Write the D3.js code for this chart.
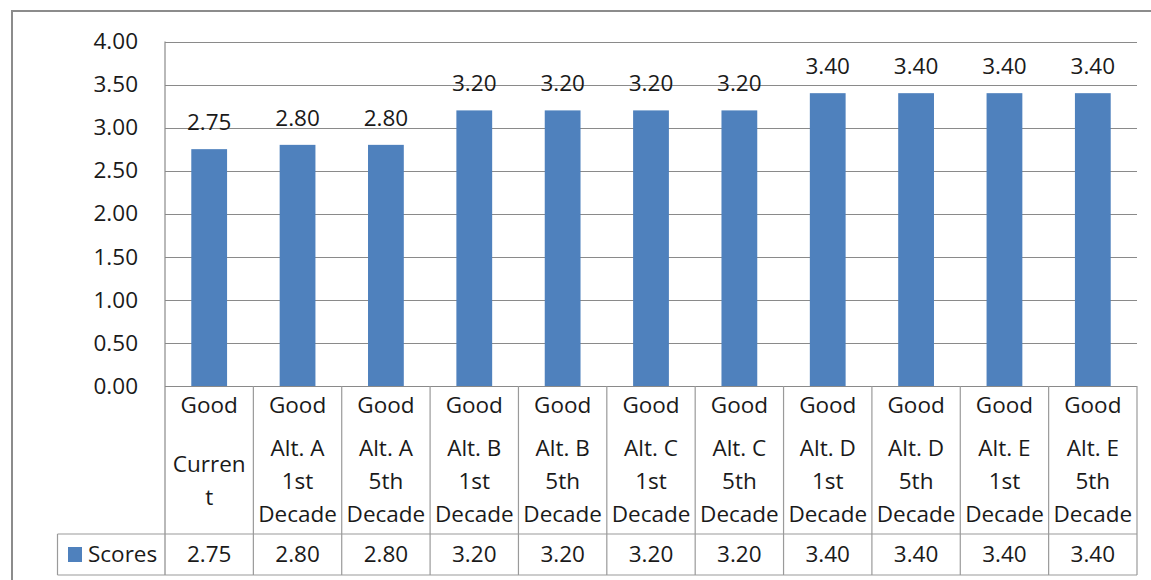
<!DOCTYPE html>
<html>
<head>
<meta charset="utf-8">
<script src="https://cdn.jsdelivr.net/npm/d3@7/dist/d3.min.js"></script>
<style>
  html, body { margin: 0; padding: 0; background: #fff; }
  svg { display: block; }
  text { font-family: "Open Sans", sans-serif; fill: #1a1a1a; }
</style>
</head>
<body>
<svg id="chart" width="1151" height="580"></svg>
<script>
const categories = [
  "Good Current", "Good Alt. A 1st Decade", "Good Alt. A 5th Decade",
  "Good Alt. B 1st Decade", "Good Alt. B 5th Decade",
  "Good Alt. C 1st Decade", "Good Alt. C 5th Decade",
  "Good Alt. D 1st Decade", "Good Alt. D 5th Decade",
  "Good Alt. E 1st Decade", "Good Alt. E 5th Decade"
];
const categoryTopLine = ["Good","Good","Good","Good","Good","Good","Good","Good","Good","Good","Good"];
const categoryLines = [
  ["Curren","t"],
  ["Alt. A","1st","Decade"], ["Alt. A","5th","Decade"],
  ["Alt. B","1st","Decade"], ["Alt. B","5th","Decade"],
  ["Alt. C","1st","Decade"], ["Alt. C","5th","Decade"],
  ["Alt. D","1st","Decade"], ["Alt. D","5th","Decade"],
  ["Alt. E","1st","Decade"], ["Alt. E","5th","Decade"]
];
const seriesName = "Scores";
const scores = [2.75, 2.80, 2.80, 3.20, 3.20, 3.20, 3.20, 3.40, 3.40, 3.40, 3.40];
const yTicks = [0, 0.5, 1, 1.5, 2, 2.5, 3, 3.5, 4];

const svg = d3.select("#chart");
const FS = 22.5;
const plot = { left: 165, right: 1137, top: 41.5, bottom: 386 };
const tableBottom = 575, labelRowBottom = 534, legendLeft = 57.5;
const barColor = "#4F81BD", gridColor = "#8a8a8a", tableColor = "#9a9a9a";

// outer frame
svg.append("rect").attr("x", 12).attr("y", 11).attr("width", 1160).attr("height", 600)
  .attr("fill", "none").attr("stroke", "#8c8c8c").attr("stroke-width", 2);

const y = d3.scaleLinear().domain([0, 4]).range([plot.bottom, plot.top]);
const x = d3.scaleBand().domain(categories).range([plot.left, plot.right])
  .paddingInner(0.595).paddingOuter(0.2975);
const cell = d3.scaleBand().domain(categories).range([plot.left, plot.right]).padding(0);

// gridlines
svg.append("g").selectAll("line").data(yTicks.filter(d => d > 0)).join("line")
  .attr("x1", plot.left).attr("x2", plot.right)
  .attr("y1", d => Math.round(y(d)) + 0.5).attr("y2", d => Math.round(y(d)) + 0.5)
  .attr("stroke", gridColor).attr("stroke-width", 1);

// y axis labels
const yAxis = d3.axisLeft(y).tickValues(yTicks).tickFormat(d3.format(".2f")).tickSize(0).tickPadding(27);
const ya = svg.append("g").attr("transform", `translate(${plot.left},0)`).call(yAxis);
ya.select(".domain").remove();
ya.selectAll("text").attr("font-size", FS).attr("font-family", "Open Sans, sans-serif").attr("fill", "#1a1a1a");

// bars
svg.append("g").selectAll("rect").data(categories).join("rect")
  .attr("x", d => x(d)).attr("width", x.bandwidth())
  .attr("y", (d, i) => y(scores[i])).attr("height", (d, i) => y(0) - y(scores[i]))
  .attr("fill", barColor);

// data labels
svg.append("g").selectAll("text").data(categories).join("text")
  .attr("x", d => x(d) + x.bandwidth() / 2)
  .attr("y", (d, i) => y(scores[i]) - 19)
  .attr("text-anchor", "middle").attr("font-size", FS)
  .text((d, i) => d3.format(".2f")(scores[i]));

// axis line (left) and table lines
const tl = svg.append("g").attr("stroke", tableColor).attr("stroke-width", 1.2);
tl.append("line").attr("x1", plot.left).attr("x2", plot.left).attr("y1", plot.top).attr("y2", tableBottom).attr("stroke", gridColor);
tl.append("line").attr("x1", plot.left).attr("x2", plot.right).attr("y1", plot.bottom + 0.5).attr("y2", plot.bottom + 0.5).attr("stroke", gridColor);
tl.selectAll("line.v").data(categories).join("line").attr("class", "v")
  .attr("x1", d => cell(d) + cell.bandwidth()).attr("x2", d => cell(d) + cell.bandwidth())
  .attr("y1", plot.bottom).attr("y2", tableBottom);
tl.append("line").attr("x1", legendLeft).attr("x2", plot.right).attr("y1", labelRowBottom).attr("y2", labelRowBottom);
tl.append("line").attr("x1", legendLeft).attr("x2", plot.right).attr("y1", tableBottom).attr("y2", tableBottom);
tl.append("line").attr("x1", legendLeft).attr("x2", legendLeft).attr("y1", labelRowBottom).attr("y2", tableBottom);

// category labels
const cg = svg.append("g").selectAll("g").data(categories).join("g")
  .attr("transform", d => `translate(${cell(d) + cell.bandwidth() / 2},0)`);
cg.append("text").attr("y", 405).attr("dy", "0.35em").attr("text-anchor", "middle")
  .attr("font-size", FS).text((d, i) => categoryTopLine[i]);
cg.each(function (d, i) {
  const lines = categoryLines[i];
  const lh = 33, mid = 481;
  const g = d3.select(this);
  lines.forEach((t, k) => {
    g.append("text").attr("y", mid + (k - (lines.length - 1) / 2) * lh).attr("dy", "0.35em")
      .attr("text-anchor", "middle").attr("font-size", FS).text(t);
  });
});

// values row
svg.append("g").selectAll("text").data(categories).join("text")
  .attr("x", d => cell(d) + cell.bandwidth() / 2).attr("y", 554.5).attr("dy", "0.35em")
  .attr("text-anchor", "middle").attr("font-size", FS)
  .text((d, i) => d3.format(".2f")(scores[i]));

// legend key
svg.append("rect").attr("x", 68).attr("y", 547).attr("width", 14).attr("height", 15).attr("fill", barColor);
svg.append("text").attr("x", 88).attr("y", 554.5).attr("dy", "0.35em").attr("font-size", FS).text(seriesName);
</script>
</body>
</html>
